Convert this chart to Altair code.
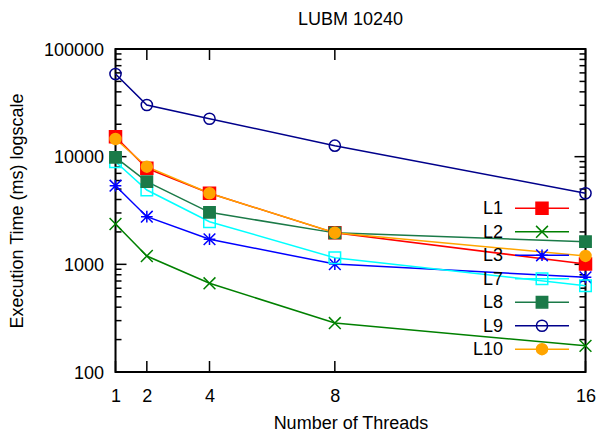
import altair as alt
import pandas as pd

# ---- data ----
threads = [1, 2, 4, 8, 16]
series_names = ["L1", "L2", "L3", "L7", "L8", "L9", "L10"]
L1 = [15300, 7800, 4570, 1960, 1007]
L2 = [2370, 1195, 667, 285, 175]
L3 = [5370, 2770, 1710, 1005, 758]
L7 = [8980, 4900, 2490, 1150, 634]
L8 = [9860, 5860, 3040, 1960, 1625]
L9 = [58600, 30200, 22500, 12650, 4570]
L10 = [14600, 8070, 4570, 1965, 1197]

x_tick_values = [1, 2, 4, 8, 16]
y_major_ticks = [100, 1000, 10000, 100000]
y_minor_ticks = [200, 300, 400, 500, 600, 700, 800, 900,
                 2000, 3000, 4000, 5000, 6000, 7000, 8000, 9000,
                 20000, 30000, 40000, 50000, 60000, 70000, 80000, 90000]

# ---- styles ----
colors = ["#ff0000", "#008000", "#0000ff", "#00ffff", "#1b7a48", "#00008b", "#ffa500"]
fills = ["#ff0000", "transparent", "transparent", "transparent", "#1b7a48", "transparent", "#ffa500"]
XPATH = "M-1,-1L1,1M-1,1L1,-1"
STAR = "M-1,0L1,0M0,-1L0,1M-1,-1L1,1M-1,1L1,-1"
shapes = ["square", XPATH, STAR, "square", "square", "circle", "circle"]
sizes = [144, 121, 144, 144, 144, 113, 113]

FONT = "Liberation Sans"
FS = 18
W, H = 470, 323
LEFT = 107.5

values = {"L1": L1, "L2": L2, "L3": L3, "L7": L7, "L8": L8, "L9": L9, "L10": L10}
rows = []
for name in series_names:
    for t, v in zip(threads, values[name]):
        rows.append({"series": name, "threads": t, "time": v})
df = pd.DataFrame(rows)
legend_df = pd.DataFrame({"series": series_names})

xscale = alt.Scale(domain=[1, 16], nice=False, zero=False)
yscale = alt.Scale(type="log", domain=[100, 100000], nice=False)

stroke_enc = alt.Stroke("series:N", scale=alt.Scale(domain=series_names, range=colors), legend=None)
fill_enc = alt.Fill("series:N", scale=alt.Scale(domain=series_names, range=fills), legend=None)
shape_enc = alt.Shape("series:N", scale=alt.Scale(domain=series_names, range=shapes), legend=None)
size_enc = alt.Size("series:N", scale=alt.Scale(domain=series_names, range=sizes), legend=None)

x_axis = alt.Axis(values=x_tick_values, format="d", title="Number of Threads", grid=False,
                  domain=False, ticks=False, tickSize=0, labelPadding=15, labelFlush=False,
                  labelOverlap=False, labelFont=FONT, labelFontSize=FS, labelColor="black",
                  titleFont=FONT, titleFontSize=FS, titleFontWeight="normal", titleColor="black",
                  titleBaseline="alphabetic", titleY=56)
y_axis = alt.Axis(values=y_major_ticks, format="d", title="Execution Time (ms) logscale", grid=False,
                  domain=False, ticks=False, tickSize=0, labelPadding=12, labelOffset=1,
                  labelFlush=False, labelOverlap=False, labelFont=FONT, labelFontSize=FS,
                  labelColor="black", titleFont=FONT, titleFontSize=FS, titleFontWeight="normal",
                  titleColor="black", titleAngle=270, titleAlign="center", titleBaseline="alphabetic",
                  titleX=-93, titleY=161.5)

base = alt.Chart(df)
lines = base.mark_line(strokeWidth=1.5).encode(
    x=alt.X("threads:Q", scale=xscale, axis=x_axis),
    y=alt.Y("time:Q", scale=yscale, axis=y_axis),
    stroke=stroke_enc,
    order=alt.Order("threads:Q"),
)
points = base.mark_point(strokeWidth=1.5, opacity=1, filled=False).encode(
    x=alt.X("threads:Q", scale=xscale, axis=x_axis),
    y=alt.Y("time:Q", scale=yscale, axis=None),
    stroke=stroke_enc, fill=fill_enc, shape=shape_enc, size=size_enc,
)

def yticks(vals, x0, x1):
    return alt.Chart(pd.DataFrame({"v": vals})).mark_rule(color="black", strokeWidth=1.5).encode(
        y=alt.Y("v:Q", scale=yscale, axis=None), x=alt.value(x0), x2=alt.value(x1))

def xticks(y0, y1):
    return alt.Chart(pd.DataFrame({"v": x_tick_values})).mark_rule(color="black", strokeWidth=1.5).encode(
        x=alt.X("v:Q", scale=xscale, axis=x_axis), y=alt.value(y0), y2=alt.value(y1))

MAJ, MIN = 11, 6
tick_layers = [
    yticks(y_major_ticks, 0, MAJ), yticks(y_major_ticks, W - MAJ, W),
    yticks(y_minor_ticks, 0, MIN), yticks(y_minor_ticks, W - MIN, W),
    xticks(H - MAJ, H), xticks(0, MAJ),
]

# plot frame
frame = alt.Chart(pd.DataFrame({"series": ["frame"]})).mark_rect(
    fill="transparent", stroke="black", strokeWidth=2).encode(
    x=alt.value(0), x2=alt.value(W), y=alt.value(0), y2=alt.value(H))

# legend (gnuplot style: label, then line with marker)
ly = alt.Y("series:N", scale=alt.Scale(type="point", domain=series_names, range=[159.3, 300.2], padding=0), axis=None)
leg = alt.Chart(legend_df)
leg_text = leg.mark_text(align="right", baseline="middle", font=FONT, fontSize=FS, color="black", dy=1).encode(
    y=ly, x=alt.value(503 - 8 - LEFT), text="series:N")
leg_line = leg.mark_rule(strokeWidth=1.5).encode(
    y=ly, x=alt.value(515 - 8 - LEFT), x2=alt.value(569 - 8 - LEFT), stroke=stroke_enc)
leg_pt = leg.mark_point(strokeWidth=1.5, opacity=1, filled=False).encode(
    y=ly, x=alt.value(542 - 8 - LEFT), stroke=stroke_enc, fill=fill_enc, shape=shape_enc, size=size_enc)

chart = alt.layer(
    frame, *tick_layers, lines, points, leg_text, leg_line, leg_pt
).resolve_scale(y="independent").properties(
    width=W, height=H,
    title=alt.Title("LUBM 10240", font=FONT, fontSize=FS, fontWeight="normal", color="black",
                    anchor="middle", baseline="alphabetic", offset=-2),
    autosize=alt.AutoSizeParams(type="none"),
    padding={"left": LEFT, "top": 41, "right": 588 - LEFT - W, "bottom": 425 - 41 - H},
).configure_view(stroke=None).configure(background="white")

chart.save("out.html", embed_options={"renderer": "svg", "actions": False})
